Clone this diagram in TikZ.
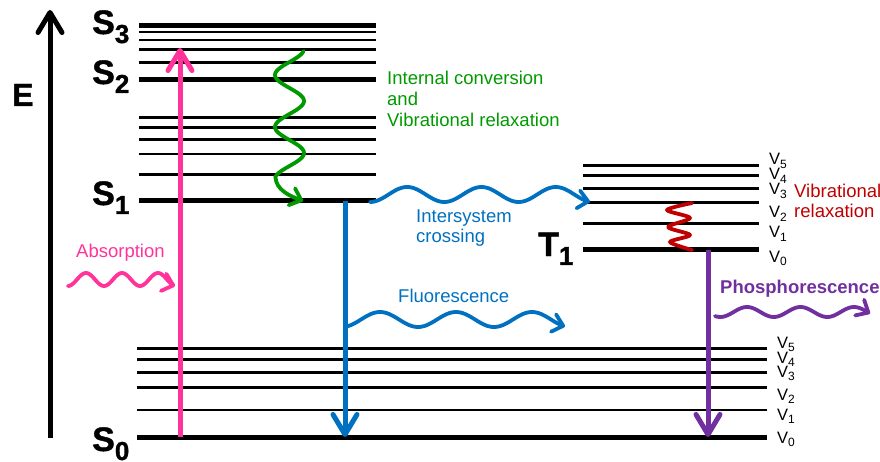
\documentclass[tikz,border=0pt]{standalone}
\usepackage{fontspec}
\setmainfont{Liberation Sans}
\newfontfamily\heavyfont{Liberation Sans Bold}[FakeBold=1.2]
\usetikzlibrary{arrows.meta}
\definecolor{abspink}{HTML}{FF3399}
\definecolor{icgreen}{HTML}{009900}
\definecolor{fblue}{HTML}{0070C0}
\definecolor{ppurple}{HTML}{7030A0}
\definecolor{vred}{HTML}{C00000}
\newcommand\statelab[2]{\heavyfont\fontsize{34}{34}\selectfont #1\raisebox{-9pt}{\fontsize{26}{26}\selectfont #2}}
\newcommand\vlab[1]{\fontsize{16.5}{16.5}\selectfont V\raisebox{-3.5pt}{\fontsize{12}{12}\selectfont #1}}
\begin{document}
\begin{tikzpicture}[x=1pt,y=-1pt,
  thinlevel/.style={line width=2.7pt},
  thicklevel/.style={line width=5pt},
  bigarrow/.style={line width=5pt,-{Straight Barb[length=20pt,width=24pt,round]}},
  wavearrow/.style={line width=3.8pt,line cap=round,-{Straight Barb[length=10pt,width=18pt,round]}},
  lab/.style={anchor=base west,inner sep=0pt,font=\fontsize{18.5}{18.5}\selectfont},
  vl/.style={anchor=base west,inner sep=0pt},
  st/.style={anchor=base west,inner sep=0pt}]
\useasboundingbox (0,0) rectangle (880,462);
% singlet S1-S3 levels
\foreach \y in {32,40,49.3,62.3,117.3,127.3,139.3,154,174.7}
  \draw[thinlevel] (139,\y) -- (376,\y);
\foreach \y in {25.7,80,201}
  \draw[thicklevel] (139,\y) -- (376,\y);
% S0 levels
\foreach \y in {348.3,359.3,372.7,387.7,410}
  \draw[thinlevel] (137,\y) -- (767,\y);
\draw[thicklevel] (137,437.3) -- (767,437.3);
% T1 levels
\foreach \y in {165.7,175.7,188.7,202.7,223.3}
  \draw[thinlevel] (583,\y) -- (759,\y);
\draw[thicklevel] (583,250) -- (759,250);
% state labels
\node[st] (s3) at (92,34) {\statelab{S}{3}};
\node[st] (s2) at (92,84) {\statelab{S}{2}};
\node[st] (s1) at (92,205) {\statelab{S}{1}};
\node[st] (s0) at (92,451) {\statelab{S}{0}};
\node[st] (t1) at (538,256) {\statelab{T}{1}};
\node[st] (E) at (12,106) {\heavyfont\fontsize{32}{32}\selectfont E};
% V labels T1
\node[vl] (tv5) at (769,165) {\vlab{5}};
\node[vl] (tv4) at (769,180) {\vlab{4}};
\node[vl] (tv3) at (769,195) {\vlab{3}};
\node[vl] (tv2) at (769,218) {\vlab{2}};
\node[vl] (tv1) at (769,238) {\vlab{1}};
\node[vl] (tv0) at (769,262) {\vlab{0}};
% V labels S0
\node[vl] (sv5) at (777,348) {\vlab{5}};
\node[vl] (sv4) at (777,363) {\vlab{4}};
\node[vl] (sv3) at (777,377) {\vlab{3}};
\node[vl] (sv2) at (777,400) {\vlab{2}};
\node[vl] (sv1) at (777,420) {\vlab{1}};
\node[vl] (sv0) at (777,443) {\vlab{0}};
% coordinates
\coordinate (Ebot) at (50,438);
\coordinate (Etop) at (50,10);
\coordinate (absbot) at (180,437);
\coordinate (abstop) at (180,48);
\coordinate (flutop) at (345,201);
\coordinate (flubot) at (345,437);
\coordinate (phtop) at (708,250);
\coordinate (phbot) at (708,437);
% straight arrows
\draw[bigarrow] (Ebot) -- (Etop);
\draw[bigarrow,abspink] (absbot) -- (abstop);
\draw[bigarrow,fblue] (flutop) -- (flubot);
\draw[bigarrow,ppurple] (phtop) -- (phbot);
% wavy arrows
\draw[wavearrow,icgreen] plot[domain=51:177,samples=90] ({289.5-14.5*cos((\x-75)*6.923)},\x)
   .. controls (276,190) and (290,196) .. (303,201);
\draw[wavearrow,abspink] plot[domain=68:175,samples=90] (\x,{279.5+6.5*cos((\x-68)*10)});
\draw[wavearrow,fblue] plot[domain=370:590,samples=120] (\x,{194.5+7.5*cos((\x-370)*4.845)});
\draw[wavearrow,fblue] plot[domain=347:565,samples=120] (\x,{319.5+7.5*cos((\x-342)*4.737)});
\draw[wavearrow,ppurple] plot[domain=715:870,samples=100] (\x,{312-5*cos((\x-747)*6.729)});
\draw[line width=3.8pt,vred,line cap=round,line join=round] plot[smooth,tension=0.5] coordinates
  {(692,203) (667,210) (690,218) (668,227) (690,235) (670,242) (692,250)};
% text labels
\node[lab,icgreen] (ic1) at (387,85) {Internal conversion};
\node[lab,icgreen] (ic2) at (387,106) {and};
\node[lab,icgreen] (ic3) at (387,127) {Vibrational relaxation};
\node[lab,fblue] (isc1) at (416,223) {Intersystem};
\node[lab,fblue] (isc2) at (416,243) {crossing};
\node[lab,fblue] (flu) at (398,302) {Fluorescence};
\node[lab,abspink] (abs) at (76,258) {Absorption};
\node[lab,ppurple,font=\fontsize{18.5}{18.5}\selectfont\bfseries] (pho) at (720,293) {Phosphorescence};
\node[lab,vred] (vr1) at (794,198) {Vibrational};
\node[lab,vred] (vr2) at (794,218) {relaxation};
\end{tikzpicture}
\end{document}
